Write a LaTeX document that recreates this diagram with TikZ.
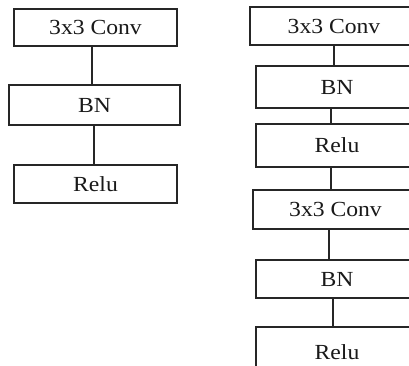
\documentclass[tikz,border=0pt]{standalone}
\usepackage{fontspec}
\setmainfont{Liberation Serif}[FakeStretch=1.1]
\begin{document}
\begin{tikzpicture}[x=1pt,y=-1pt,
  layer/.style={draw=black!85, line width=1.4pt, fill=white, inner sep=0pt,
    font=\fontsize{21.5}{25}\selectfont, text=black!90},
  link/.style={draw=black!85, line width=1.4pt}]
\useasboundingbox (0,0) rectangle (409,365);
\fill[white] (0,0) rectangle (409,365);
\clip (0,0) rectangle (409,365);

% single conv block
\node[layer, minimum width=163pt, minimum height=37pt] (c1) at (95.5,27.5) {3x3 Conv};
\node[layer, minimum width=171pt, minimum height=40pt] (b1) at (94.5,105) {BN};
\node[layer, minimum width=163pt, minimum height=38pt] (r1) at (95.5,184) {Relu};
\draw[link] ([xshift=-3.5pt]c1.south) -- ([xshift=-3.5pt]c1.south |- b1.north);
\draw[link] ([xshift=-0.5pt]b1.south) -- ([xshift=-0.5pt]b1.south |- r1.north);

% double conv block
\node[layer, minimum width=168pt, minimum height=38pt] (c2) at (334,26) {3x3 Conv};
\node[layer, minimum width=162pt, minimum height=42pt] (b2) at (337,87) {BN};
\node[layer, minimum width=162pt, minimum height=43pt] (r2) at (337,145.5) {Relu};
\node[layer, minimum width=165pt, minimum height=39pt] (c3) at (335.5,209.5) {3x3 Conv};
\node[layer, minimum width=162pt, minimum height=38pt] (b3) at (337,279) {BN};
\node[layer, minimum width=162pt, minimum height=50pt] (r3) at (337,352) {Relu};
\draw[link] (c2.south) -- (c2.south |- b2.north);
\draw[link] ([xshift=-6pt]b2.south) -- ([xshift=-6pt]b2.south |- r2.north);
\draw[link] ([xshift=-6pt]r2.south) -- ([xshift=-6pt]r2.south |- c3.north);
\draw[link] ([xshift=-6.5pt]c3.south) -- ([xshift=-6.5pt]c3.south |- b3.north);
\draw[link] ([xshift=-4pt]b3.south) -- ([xshift=-4pt]b3.south |- r3.north);
\end{tikzpicture}
\end{document}
